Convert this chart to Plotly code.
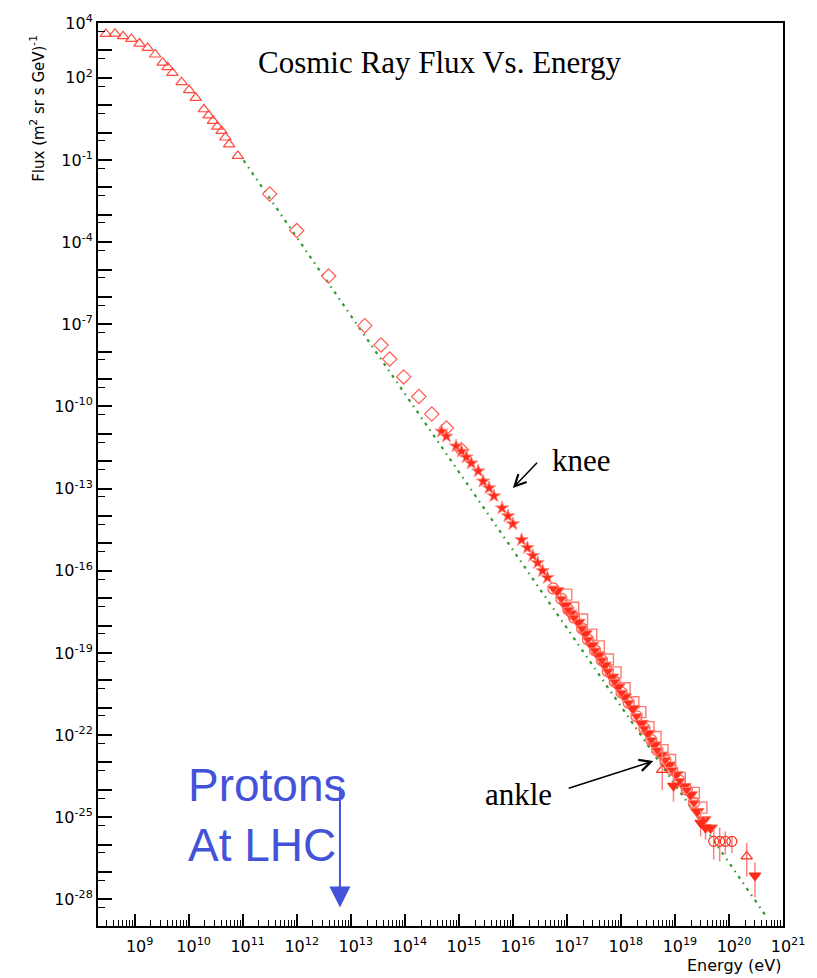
import plotly.graph_objects as go

# ---------------- data ----------------
# low-energy open triangles
tri_E = [2.94e8, 4.31e8, 6.11e8, 8.71e8, 1.23e9, 1.74e9, 2.40e9, 3.31e9, 4.07e9, 5.01e9,
         7.41e9, 1.02e10, 1.35e10, 1.91e10, 2.34e10, 2.82e10, 3.39e10, 4.07e10, 4.79e10,
         5.62e10, 8.13e10]
tri_F = [3980, 4070, 3310, 2630, 1780, 1230, 708, 355, 245, 151,
         69.2, 35.5, 18.6, 7.08, 4.27, 2.69, 1.66, 1.15, 0.661,
         0.372, 0.141]

# open diamonds
dia_E = [3.16e11, 1.00e12, 3.89e12, 1.82e13, 3.63e13, 5.25e13, 9.55e13, 1.82e14, 3.16e14,
         5.89e14, 1.12e15]
dia_F = [5.75e-3, 2.63e-4, 5.75e-6, 8.91e-8, 1.74e-8, 5.37e-9, 1.20e-9, 2.29e-10, 5.25e-11,
         1.62e-11, 2.63e-12]

# knee-region stars
star_E = [4.79e14, 5.89e14, 8.91e14, 1.12e15, 1.38e15, 1.70e15, 2.29e15, 2.82e15, 3.63e15,
          4.47e15, 6.31e15, 8.13e15, 1.00e16, 1.45e16, 1.86e16, 2.34e16, 2.88e16, 3.55e16,
          4.37e16]
star_F = [1.23e-11, 8.13e-12, 3.55e-12, 2.29e-12, 1.41e-12, 8.51e-13, 4.37e-13, 1.86e-13,
          1.05e-13, 5.37e-14, 1.95e-14, 1.00e-14, 5.13e-15, 1.35e-15, 6.92e-16, 3.55e-16,
          1.95e-16, 1.00e-16, 5.62e-17]

# high-energy filled points (set 1)
hi_E = [6.61e16, 9.33e16, 1.15e17, 1.62e17, 2.19e17, 2.88e17, 3.80e17, 5.01e17, 6.76e17,
        8.91e17, 1.17e18, 1.66e18, 2.40e18, 3.16e18, 4.17e18, 5.50e18, 7.76e18, 1.05e19,
        1.48e19, 1.95e19, 2.57e19, 3.47e19, 4.57e19]
hi_F = [1.86e-17, 5.37e-18, 2.69e-18, 1.32e-18, 5.01e-19, 1.86e-19, 8.13e-20, 3.55e-20,
        1.32e-20, 5.75e-21, 2.45e-21, 9.33e-22, 2.69e-22, 1.15e-22, 4.37e-23, 1.86e-23,
        8.13e-24, 3.55e-24, 1.32e-24, 6.61e-25, 1.62e-25, 8.13e-26, 4.07e-26]

# high-energy filled points (set 2)
hi2_E = [5.62e16, 7.89e16, 1.06e17, 1.36e17, 1.91e17, 2.45e17, 3.31e17, 4.45e17, 5.73e17,
         7.69e17, 1.03e18, 1.39e18, 1.95e18, 2.72e18, 3.66e18, 4.72e18, 6.61e18, 8.87e18,
         1.23e19, 1.66e19, 2.24e19]
hi2_F = [2.24e-17, 9.55e-18, 3.80e-18, 1.95e-18, 7.76e-19, 3.09e-19, 1.23e-19, 5.37e-20,
         2.14e-20, 8.91e-21, 3.55e-21, 1.51e-21, 4.90e-22, 1.74e-22, 6.60e-23, 2.82e-23,
         1.23e-23, 5.37e-24, 2.14e-24, 1.00e-24, 3.39e-25]

# high-energy open points
ho_E = [9.73e16, 1.31e17, 1.91e17, 2.82e17, 3.89e17, 5.75e17, 7.94e17, 1.17e18, 1.70e18,
        2.29e18, 3.24e18, 4.37e18, 5.89e18, 8.13e18, 1.23e19, 2.24e19, 3.09e19]
ho_F = [1.35e-17, 4.47e-18, 1.66e-18, 4.68e-19, 1.74e-19, 5.75e-20, 1.95e-20, 5.13e-21,
        1.58e-21, 6.92e-22, 1.95e-22, 8.51e-23, 2.82e-23, 1.23e-23, 2.75e-24, 7.76e-25,
        2.24e-25]

# points with error bars (ankle / highest energies)
eb_E = [5.82e18, 9.40e18, 2.99e19, 3.68e19, 5.22e19, 6.73e19, 8.57e19, 1.13e20, 2.13e20, 3.03e20]
eb_F = [5.37e-24, 1.41e-24, 6.31e-26, 4.17e-26, 1.32e-26, 1.32e-26, 1.32e-26, 1.32e-26,
        3.72e-27, 7.41e-28]
eb_hi = [3.39e-23, 4.68e-24, 1.86e-25, 1.07e-25, 3.55e-26, 4.17e-26, 3.02e-26, 2.00e-26,
         1.17e-26, 2.24e-27]
eb_lo = [1.0e-24, 3.72e-25, 2.00e-26, 1.51e-26, 2.82e-27, 2.45e-27, 4.37e-27, 5.01e-27,
         6.92e-28, 1.17e-28]
eb_sym = ["triangle-up-open", "triangle-down", "triangle-down", "triangle-down", "circle-open",
          "circle-open", "circle-open", "circle-open", "triangle-up-open", "triangle-down"]

# green reference power law (end points)
fit_E = [1.04e11, 5.01e20]
fit_F = [0.0955, 2.24e-29]

# axis ticks
x_exp = list(range(9, 22))
y_exp = list(range(-28, 5))
y_lab_exp = [4, 2, -1, -4, -7, -10, -13, -16, -19, -22, -25, -28]

# ---------------- styling ----------------
RED = "#ff2a18"
BLUE = "#4353d9"
ROOTFONT = "DejaVu Sans"
SERIF = "Liberation Serif"

fig = go.Figure()

fig.add_trace(go.Scatter(x=fit_E, y=fit_F, mode="lines",
                         line=dict(color="#2e9a2e", width=2.2, dash="3px,5px,1.5px,5px"),
                         hoverinfo="skip"))
fig.add_trace(go.Scatter(x=tri_E, y=tri_F, mode="markers",
                         marker=dict(symbol="triangle-up-open", size=10, color="#ff4a40",
                                     line=dict(width=1.2))))
fig.add_trace(go.Scatter(x=dia_E, y=dia_F, mode="markers",
                         marker=dict(symbol="diamond-open", size=11, color="#ff5a50",
                                     line=dict(width=1.2))))
fig.add_trace(go.Scatter(x=star_E, y=star_F, mode="markers",
                         marker=dict(symbol="star", size=10, color=RED,
                                     line=dict(color="#ff9088", width=1))))
fig.add_trace(go.Scatter(x=ho_E, y=ho_F, mode="markers",
                         marker=dict(symbol="square-open", size=11, color="#ff7a70",
                                     line=dict(width=1.4))))
fig.add_trace(go.Scatter(x=hi2_E, y=hi2_F, mode="markers",
                         marker=dict(symbol="circle-open", size=11, color="#ff6a60",
                                     line=dict(width=1.4))))
fig.add_trace(go.Scatter(x=hi_E, y=hi_F, mode="markers",
                         marker=dict(symbol="triangle-down", size=12, color=RED,
                                     line=dict(color="#ff7060", width=1))))
fig.add_trace(go.Scatter(x=hi2_E, y=hi2_F, mode="markers",
                         marker=dict(symbol="triangle-down", size=10, color="#ff3020",
                                     line=dict(color="#ff8070", width=1))))
fig.add_trace(go.Scatter(
    x=eb_E, y=eb_F, mode="markers",
    marker=dict(symbol=eb_sym, size=10, color=RED, line=dict(color=RED, width=1.2)),
    error_y=dict(type="data", symmetric=False,
                 array=[h - f for h, f in zip(eb_hi, eb_F)],
                 arrayminus=[f - l for f, l in zip(eb_F, eb_lo)],
                 color="#ff8080", thickness=1.5, width=0)))

x_minor = [k * 10.0 ** n for n in range(8, 21) for k in range(2, 10)]
y_minor = [5 * 10.0 ** (n - 1) for n in range(-28, 5)]

fig.update_layout(
    width=817, height=978,
    margin=dict(l=98, r=27, t=20, b=52),
    paper_bgcolor="white", plot_bgcolor="white",
    showlegend=False,
    xaxis=dict(type="log", range=[8.322, 21.0], showgrid=False, zeroline=False,
               showline=True, linecolor="black", linewidth=2, mirror=True,
               ticks="inside", ticklen=12, tickwidth=1.5, tickcolor="black",
               tickmode="array", tickvals=[10.0 ** e for e in x_exp],
               ticktext=[f"10<sup>{e}</sup>" for e in x_exp],
               tickfont=dict(family=ROOTFONT, size=16, color="black"),
               ticklabelshift=5, ticklabelstandoff=5,
               minor=dict(tickmode="array", tickvals=x_minor, ticks="inside",
                          ticklen=6, tickwidth=1.2, tickcolor="black")),
    yaxis=dict(type="log", range=[-28.97, 4.0], showgrid=False, zeroline=False,
               showline=True, linecolor="black", linewidth=2, mirror=True,
               ticks="inside", ticklen=14, tickwidth=1.5, tickcolor="black",
               tickmode="array", tickvals=[10.0 ** e for e in y_exp],
               ticktext=[(f"10<sup>{e}</sup>" if e in y_lab_exp else "") for e in y_exp],
               tickfont=dict(family=ROOTFONT, size=16, color="black"),
               minor=dict(tickmode="array", tickvals=y_minor, ticks="inside",
                          ticklen=7, tickwidth=1.2, tickcolor="black")),
)

ann = []
# title
ann.append(dict(text="Cosmic Ray Flux Vs. Energy", xref="paper", yref="paper",
                x=0.4986, y=0.956, xanchor="center", yanchor="middle", showarrow=False,
                font=dict(family=SERIF, size=31, color="black")))
# axis titles
ann.append(dict(text="Flux (m<sup>2</sup> sr s GeV)<sup>-1</sup>", xref="paper", yref="paper",
                x=-0.089, y=0.905, xanchor="center", yanchor="middle", textangle=-90,
                showarrow=False, font=dict(family=ROOTFONT, size=15, color="black")))
ann.append(dict(text="Energy (eV)", xref="paper", yref="paper",
                x=0.9986, y=-0.0555, xanchor="right", yanchor="bottom", showarrow=False,
                borderpad=0, font=dict(family=ROOTFONT, size=16, color="black")))
# knee / ankle labels
ann.append(dict(text="knee", xref="paper", yref="paper", x=0.6604, y=0.5155,
                xanchor="left", yanchor="middle", showarrow=False,
                font=dict(family=SERIF, size=31, color="black")))
ann.append(dict(text="ankle", xref="paper", yref="paper", x=0.5621, y=0.1457,
                xanchor="left", yanchor="middle", showarrow=False,
                font=dict(family=SERIF, size=31, color="black")))
# knee / ankle arrows (log10 coordinates)
ann.append(dict(text="", x=16.0, y=-12.98, ax=16.475, ay=-12.0, axref="x", ayref="y",
                xref="x", yref="y", showarrow=True, arrowhead=5, arrowsize=1.5,
                arrowwidth=1.5, arrowcolor="black"))
ann.append(dict(text="", x=18.60, y=-22.95, ax=17.006, ay=-23.96, axref="x", ayref="y",
                xref="x", yref="y", showarrow=True, arrowhead=5, arrowsize=1.5,
                arrowwidth=1.5, arrowcolor="black"))
# protons at LHC
ann.append(dict(text="Protons<br>At LHC", xref="paper", yref="paper", x=0.1286, y=0.1225,
                xanchor="left", yanchor="middle", align="left", showarrow=False,
                font=dict(family="Liberation Sans", size=46, color=BLUE)))
ann.append(dict(text="", x=12.8, y=-28.29, ax=12.8, ay=-23.82, axref="x", ayref="y",
                xref="x", yref="y", showarrow=True, arrowhead=2, arrowsize=2.1,
                arrowwidth=2, arrowcolor=BLUE))
fig.update_layout(annotations=ann)

fig.write_html("out.html")
